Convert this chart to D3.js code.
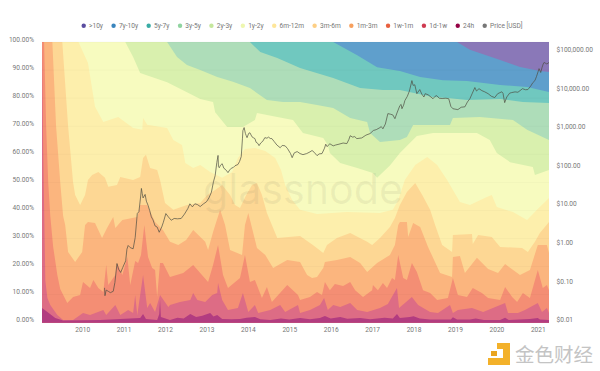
<!DOCTYPE html>
<html>
<head>
<meta charset="utf-8">
<script src="https://cdnjs.cloudflare.com/ajax/libs/d3/7.8.5/d3.min.js"></script>
<style>
    html, body { margin: 0; padding: 0; background: #fff; }
    svg { display: block; width: 600px; height: 371px; }
    text { font-family: Roboto, sans-serif; }
</style>
</head>
<body>
<svg></svg>
<script>
// upper edge of every band, cumulative share of supply: [year, %]
const top10y = [[2009.03,100],[2021.27,100]];
const top7y = [[2019.05,100],[2019.36,97.2],[2020.09,93.6],[2020.57,91.1],[2021.05,89.7],[2021.27,89.3]];
const top5y = [[2016.06,100],[2016.64,95.3],[2017.12,91],[2017.67,89.7],[2018.16,87.5],[2018.71,86.4],[2019.29,86.1],[2020.09,84.7],[2020.74,84],[2021.27,82.2]];
const top3y = [[2014.05,100],[2014.3,96.4],[2014.71,94.3],[2015.26,90.7],[2016.06,87.2],[2016.71,83.6],[2017.26,82.9],[2017.67,82.9],[2018.47,80.4],[2018.88,80],[2019.29,79.3],[2020.09,79.7],[2020.64,78.6],[2021.27,78.3]];
const top2y = [[2012.05,100],[2012.29,94.7],[2012.53,91.8],[2012.85,90],[2013.26,87.5],[2013.64,85.8],[2014.05,83.6],[2014.46,79.3],[2014.85,78.6],[2015.26,78.6],[2015.67,77.6],[2016.06,76.5],[2016.47,72.9],[2016.88,71.5],[2016.95,67.6],[2017.19,64.4],[2017.67,65.1],[2017.84,66.2],[2017.99,70.4],[2018.47,70.4],[2018.88,70.4],[2018.95,72.9],[2019.6,73.3],[2020.4,72.2],[2020.74,68.7],[2021.27,65.1]];
const top1y = [[2011.04,100],[2011.23,94.7],[2011.4,89],[2012.05,85.7],[2012.53,82.1],[2012.85,79.7],[2013.16,78.6],[2013.21,75],[2013.5,69.7],[2013.88,69.7],[2014.17,72.2],[2014.22,74.7],[2014.71,73.3],[2015.09,72.2],[2015.33,67.6],[2015.82,65.8],[2015.93,63.3],[2015.98,60.5],[2016.23,56.9],[2016.64,55.1],[2017.02,53.3],[2017.12,51.6],[2017.43,56],[2017.67,60.5],[2017.91,64],[2018.08,66.5],[2018.47,67.6],[2018.95,67.6],[2019.53,67.6],[2019.84,65.1],[2020.01,60.5],[2020.33,57.2],[2020.88,55.5],[2020.93,52.6],[2021.27,54.4]];
const top6m = [[2009.91,100],[2010.14,92.5],[2010.31,76.9],[2010.51,71.5],[2010.87,73.3],[2011.23,69.4],[2011.45,68.7],[2011.47,72.9],[2011.57,70.5],[2012.05,69.4],[2012.2,65.1],[2012.41,63.3],[2012.49,56.9],[2012.68,55.1],[2012.85,56.2],[2013.09,53.7],[2013.38,51.6],[2013.62,53.7],[2013.76,58.7],[2013.93,61.9],[2014.17,62.2],[2014.42,61.2],[2014.66,58.7],[2014.8,54.4],[2014.9,49.1],[2015.07,43.7],[2015.26,40.2],[2015.67,38.7],[2016.39,39.4],[2017.19,39.1],[2017.5,40.2],[2017.63,43.7],[2017.79,50.8],[2018.04,56.2],[2018.33,59],[2018.57,56.2],[2018.81,50.8],[2019.12,43],[2019.36,41.9],[2019.77,44.8],[2019.89,45.5],[2020.01,41.2],[2020.4,39.4],[2020.74,36.6],[2020.98,40.2],[2021.27,44.4]];
const top3m = [[2009.52,100],[2009.66,70],[2009.78,50],[2009.83,45.5],[2009.95,41.9],[2010.07,45.5],[2010.14,50.8],[2010.24,52.6],[2010.39,53.7],[2010.55,51.6],[2010.63,48.4],[2010.84,49.1],[2010.92,51.9],[2011.23,50.8],[2011.4,51.9],[2011.47,58.7],[2011.54,59.8],[2011.64,55.1],[2011.81,54.4],[2011.88,50.8],[2012,42.6],[2012.2,40.2],[2012.53,41.9],[2012.85,42.6],[2013.02,45.5],[2013.21,47.3],[2013.38,49.1],[2013.57,45.5],[2013.69,41.9],[2013.81,40.9],[2013.96,45.5],[2014.1,49.1],[2014.22,49.8],[2014.34,45.5],[2014.46,39.1],[2014.58,34.8],[2014.71,30.2],[2015.26,30.9],[2015.57,27.7],[2015.82,24.8],[2015.91,27.7],[2016.15,30.2],[2016.47,32],[2016.88,28.8],[2017,27.7],[2017.19,30.2],[2017.43,34.1],[2017.55,37.3],[2017.67,41.9],[2017.84,46.6],[2018.04,49.8],[2018.21,45.5],[2018.4,40.2],[2018.52,34.8],[2018.69,27.7],[2018.93,25.2],[2018.95,31.2],[2019.41,31.6],[2019.43,28],[2019.56,31.2],[2019.89,30.5],[2020.09,27],[2020.62,26.6],[2020.76,25.2],[2020.93,28.8],[2021.05,32],[2021.27,35.9]];
const top1m = [[2009.28,100],[2009.37,70],[2009.47,50],[2009.54,38],[2009.59,34.8],[2009.66,25.2],[2009.83,21.6],[2010,25.2],[2010.07,34.8],[2010.14,35.9],[2010.31,35.5],[2010.48,30.2],[2010.6,33.7],[2010.75,37.7],[2010.8,33.7],[2010.97,36.6],[2011.33,37.7],[2011.4,41.9],[2011.57,41.9],[2011.76,35.9],[2011.95,33],[2012.12,28.8],[2012.32,27.7],[2012.51,29.5],[2012.68,33],[2012.97,28.8],[2013.04,25.9],[2013.16,32.3],[2013.33,40.2],[2013.45,34.8],[2013.57,25.9],[2013.86,24.1],[2013.93,34.8],[2014.01,39.1],[2014.1,33.7],[2014.22,26.6],[2014.42,24.1],[2014.61,19.5],[2014.95,22.3],[2015.26,21.6],[2015.43,17],[2015.55,15.9],[2015.67,16.3],[2015.82,19.5],[2015.86,21.6],[2016.15,22.3],[2016.47,23.4],[2016.71,21.3],[2016.88,18.1],[2017.12,21.3],[2017.43,24.1],[2017.55,27.7],[2017.63,34.8],[2017.67,35.9],[2017.84,35.9],[2017.87,30.5],[2017.99,35.5],[2018.16,34.1],[2018.35,27],[2018.64,17.7],[2018.93,16.3],[2018.95,23.4],[2019.12,23.8],[2019.24,17.7],[2019.53,23.1],[2019.8,19.1],[2020.04,17.7],[2020.21,20.9],[2020.57,17],[2020.81,18.8],[2021,27.7],[2021.22,27.7],[2021.27,24.8]];
const top1w = [[2009.08,100],[2009.13,70],[2009.18,50],[2009.23,38],[2009.3,27],[2009.4,17],[2009.47,12],[2009.64,7],[2009.78,9.2],[2009.95,9.9],[2010.02,14.5],[2010.19,12.4],[2010.27,15.2],[2010.39,12.4],[2010.51,10.9],[2010.58,20.6],[2010.63,13.4],[2010.8,17],[2010.84,21.3],[2010.97,17],[2011.09,23.4],[2011.16,13.4],[2011.28,22],[2011.35,21.3],[2011.42,24.1],[2011.5,34.8],[2011.57,25.9],[2011.59,23.4],[2011.69,19.5],[2011.76,18.8],[2011.81,9.2],[2011.86,18],[2011.88,21.3],[2011.95,21.3],[2012.12,16.3],[2012.44,17.7],[2012.68,20.6],[2013.04,14.5],[2013.16,20.6],[2013.28,27.7],[2013.4,17],[2013.52,12.4],[2013.81,15.9],[2013.93,24.1],[2014.05,14.5],[2014.17,15.2],[2014.34,8.8],[2014.46,12.7],[2014.58,7.4],[2014.95,13.4],[2015.21,9.9],[2015.26,8.1],[2015.5,9.2],[2015.67,10.9],[2015.79,9.9],[2015.86,14.5],[2015.98,11.6],[2016.1,13.8],[2016.3,13.1],[2016.47,14.5],[2016.59,11.6],[2016.78,9.2],[2017,11.6],[2017.02,13.4],[2017.14,11.6],[2017.26,14.1],[2017.36,12.4],[2017.48,15.9],[2017.55,15.2],[2017.63,24.1],[2017.75,15.9],[2017.84,15.2],[2017.96,21.3],[2018.08,18.1],[2018.23,11.6],[2018.4,10.6],[2018.57,8.1],[2018.83,8.8],[2018.95,15.9],[2019.07,9.9],[2019.29,9.2],[2019.43,12.4],[2019.65,10.6],[2019.8,8.8],[2020.09,8.1],[2020.21,12.7],[2020.38,9.2],[2020.5,7.4],[2020.64,10.6],[2020.81,8.8],[2021,18.8],[2021.12,12.4],[2021.22,13.4],[2021.27,11.6]];
const top1d = [[2009.03,100],[2009.06,60],[2009.11,15],[2009.16,8.8],[2009.23,6.3],[2009.4,2.7],[2009.54,1],[2009.78,1],[2010.02,3.5],[2010.19,2.7],[2010.51,4.5],[2010.58,2.7],[2010.8,6.3],[2010.92,2.7],[2011.11,4.5],[2011.23,3.5],[2011.28,9.9],[2011.33,2.7],[2011.47,17],[2011.57,5.2],[2011.64,7],[2011.76,3.8],[2011.88,9.9],[2012.08,5.6],[2012.12,6.3],[2012.36,7.4],[2012.61,8.1],[2012.68,10.6],[2012.78,8.1],[2012.97,7.4],[2013.14,9.9],[2013.26,10.6],[2013.28,14.1],[2013.38,8.1],[2013.52,4.5],[2013.76,5.2],[2013.88,10.6],[2014.01,3.8],[2014.17,6.3],[2014.25,3.5],[2014.54,4.5],[2014.78,6.3],[2014.9,3.8],[2015.21,6.3],[2015.26,3.5],[2015.5,4.5],[2015.74,6.3],[2015.84,8.8],[2015.93,4.5],[2016.06,6.3],[2016.23,5.6],[2016.47,7],[2016.64,4.5],[2016.88,3.8],[2017.19,5.2],[2017.38,6.7],[2017.6,12.4],[2017.65,5.2],[2017.96,9.2],[2018.11,6.3],[2018.4,3.8],[2018.59,3.5],[2018.88,6.3],[2018.95,3.5],[2019.07,4.5],[2019.41,5.2],[2019.68,3.8],[2020.21,7],[2020.28,3.5],[2020.52,3.5],[2020.69,4.5],[2021,7],[2021.1,3.8],[2021.22,5.2],[2021.27,3.5]];
const top24h = [[2009.03,5.2],[2009.16,3.8],[2009.35,1.7],[2009.54,0.8],[2010.43,1],[2010.92,1.3],[2011.4,1.7],[2011.47,3.1],[2011.54,1.3],[2011.81,1],[2011.86,3],[2011.88,8.1],[2011.9,2],[2012.12,1],[2012.3,1.8],[2012.45,1.5],[2012.61,3.1],[2012.75,2],[2012.9,2.5],[2013.09,3.5],[2013.17,2.2],[2013.26,2.7],[2013.38,1.3],[2013.6,1.2],[2013.81,1.3],[2013.97,1.8],[2014.17,2],[2014.3,1.2],[2014.54,1],[2014.8,1.5],[2015,1.1],[2015.26,1.7],[2015.5,1.2],[2015.74,1.7],[2015.86,2.4],[2016,1.5],[2016.23,2],[2016.4,1.4],[2016.71,1.7],[2016.95,1.2],[2017.3,1.8],[2017.5,1.5],[2017.6,3.1],[2017.67,1.7],[2017.91,2],[2018,2.3],[2018.15,1.5],[2018.4,1.1],[2018.9,1.1],[2018.95,1.9],[2019.05,1.1],[2019.36,1.1],[2019.5,1.5],[2019.7,1],[2020.09,1],[2020.21,1.8],[2020.3,1],[2020.81,1.3],[2021,1.7],[2021.05,1.1],[2021.27,1]];

// [year, USD]
const priceUsd = [[2010.54,0.08],[2010.55,0.05],[2010.58,0.07],[2010.63,0.065],[2010.68,0.06],[2010.75,0.065],[2010.79,0.11],[2010.84,0.34],[2010.88,0.24],[2010.93,0.2],[2010.98,0.27],[2011.05,0.4],[2011.08,0.8],[2011.11,1],[2011.16,0.88],[2011.23,0.82],[2011.28,1.6],[2011.33,6.7],[2011.37,7.5],[2011.41,18],[2011.43,30],[2011.45,22],[2011.47,17],[2011.52,21],[2011.55,14],[2011.59,11],[2011.63,8],[2011.67,5.5],[2011.71,4.6],[2011.76,3.2],[2011.81,3],[2011.86,2.2],[2011.92,3],[2011.96,4],[2012.02,6.7],[2012.08,5.5],[2012.15,4.5],[2012.22,5],[2012.3,4.9],[2012.39,5],[2012.47,6.5],[2012.55,9],[2012.6,12],[2012.66,10],[2012.72,12],[2012.78,11.5],[2012.85,10.2],[2012.93,12],[2013,13.5],[2013.06,17],[2013.12,24],[2013.17,45],[2013.21,64],[2013.25,140],[2013.28,215],[2013.29,110],[2013.31,103],[2013.34,120],[2013.38,131],[2013.42,100],[2013.45,95],[2013.49,85],[2013.52,77],[2013.56,90],[2013.6,100],[2013.65,105],[2013.69,116],[2013.76,125],[2013.8,150],[2013.84,200],[2013.87,600],[2013.88,940],[2013.91,1130],[2013.94,800],[2013.96,700],[2013.98,620],[2014.02,800],[2014.05,830],[2014.1,650],[2014.13,620],[2014.17,585],[2014.2,470],[2014.24,440],[2014.27,385],[2014.31,450],[2014.36,500],[2014.41,620],[2014.46,600],[2014.5,640],[2014.54,590],[2014.58,585],[2014.63,500],[2014.7,400],[2014.78,340],[2014.83,390],[2014.9,380],[2014.96,320],[2015.03,240],[2015.07,188],[2015.12,250],[2015.19,270],[2015.26,240],[2015.33,225],[2015.42,240],[2015.5,265],[2015.55,288],[2015.6,260],[2015.67,212],[2015.72,235],[2015.79,240],[2015.85,330],[2015.88,420],[2015.91,363],[2015.98,430],[2016.06,380],[2016.12,400],[2016.2,420],[2016.3,450],[2016.39,435],[2016.44,560],[2016.47,695],[2016.53,640],[2016.58,660],[2016.63,585],[2016.75,610],[2016.85,720],[2016.95,790],[2017.03,950],[2017.1,1000],[2017.19,1130],[2017.22,1200],[2017.26,1050],[2017.32,1400],[2017.38,2600],[2017.45,2500],[2017.5,2400],[2017.55,1920],[2017.6,2700],[2017.67,4200],[2017.7,4500],[2017.72,3480],[2017.76,4300],[2017.79,5640],[2017.85,7300],[2017.9,10000],[2017.96,18600],[2017.99,14000],[2018.03,14500],[2018.08,8530],[2018.15,10900],[2018.2,8300],[2018.25,7000],[2018.28,8530],[2018.35,8000],[2018.42,7000],[2018.47,6310],[2018.52,7300],[2018.56,7590],[2018.62,6500],[2018.69,6400],[2018.78,6500],[2018.85,6310],[2018.9,4000],[2018.95,3480],[2019.07,3300],[2019.15,3800],[2019.24,3900],[2019.3,5200],[2019.36,6310],[2019.42,8800],[2019.48,12300],[2019.52,10000],[2019.58,11500],[2019.65,10230],[2019.72,9500],[2019.8,8530],[2019.88,7300],[2019.96,6760],[2020.03,8500],[2020.13,9550],[2020.16,8700],[2020.2,5010],[2020.25,7000],[2020.32,8800],[2020.37,9120],[2020.45,9500],[2020.52,9300],[2020.57,10230],[2020.63,11500],[2020.7,10800],[2020.76,10900],[2020.83,13500],[2020.88,16500],[2020.93,18600],[2020.97,24000],[2021.03,38000],[2021.07,30200],[2021.1,40000],[2021.13,50000],[2021.15,55000],[2021.19,52000],[2021.22,50000],[2021.27,55000]];

const bandNames = ['>10y', '7y-10y', '5y-7y', '3y-5y', '2y-3y', '1y-2y', '6m-12m', '3m-6m', '1m-3m', '1w-1m', '1d-1w', '24h'];
const bandTops = [top10y, top7y, top5y, top3y, top2y, top1y, top6m, top3m, top1m, top1w, top1d, top24h];
const bandColors = ['#8a78b8', '#5f9fcc', '#70c8bf', '#aeddb9', '#d9f0ae', '#f7fbbf', '#fdefac', '#fdd794', '#fbb57e', '#f48e74', '#dd6c85', '#b23c80'];
const legendColors = ['#5b4da0', '#3a85bd', '#3aaca5', '#90d4a0', '#c5e79d', '#eef7b0', '#fee69a', '#fdcf85', '#f7a05e', '#e8603f', '#cf3a50', '#950245', '#777777'];

const yearTicks = [2010, 2011, 2012, 2013, 2014, 2015, 2016, 2017, 2018, 2019, 2020, 2021];
const pctTicks = [0, 10, 20, 30, 40, 50, 60, 70, 80, 90, 100];
const usdTicks = [0.01, 0.1, 1, 10, 100, 1000, 10000, 100000];

const attr_area = { left: 42, right: 549, top: 42, bottom: 322.7 };
const firstYear = 2009.03;
const lastYear = 2021.27;

const svg = d3.select('svg');

const scX = d3.scaleLinear().domain([firstYear, lastYear]).range([attr_area.left, attr_area.right]);
const scY = d3.scaleLinear().domain([0, 100]).range([attr_area.bottom, attr_area.top]);
const scPrice = d3.scaleLog().domain([0.01, 186000]).range([attr_area.bottom, attr_area.top]);

function drawBands() {
    const area = d3.area()
        .x(d => scX(d[0]))
        .y0(attr_area.bottom)
        .y1(d => scY(d[1]));

    // each band is painted from its upper edge to the floor, the next one covers the rest.
    // an edge that starts later than the chart was at 100% until then
    const edges = bandTops.map(d => d[0][0] > firstYear ? [[firstYear, 100]].concat(d) : d);

    svg.selectAll('.band')
       .data(edges)
       .enter()
       .append('path')
       .attr('class', 'band')
       .attr('d', d => area(d))
       .style('fill', (d, i) => bandColors[i]);
}

function drawGrid() {
    svg.selectAll('.grid')
       .data(pctTicks)
       .enter()
       .append('line')
       .attr('class', 'grid')
       .attr('x1', attr_area.left)
       .attr('x2', attr_area.right)
       .attr('y1', d => scY(d))
       .attr('y2', d => scY(d))
       .style('stroke', 'rgba(0,0,0,0.025)');
}

function drawWatermark() {
    svg.append('text')
       .attr('x', 203)
       .attr('y', 204)
       .attr('textLength', 200)
       .attr('lengthAdjust', 'spacingAndGlyphs')
       .style('font-family', 'Inter, sans-serif')
       .style('font-size', '42px')
       .style('font-weight', 400)
       .style('fill', 'rgba(110,110,90,0.09)')
       .text('glassnode');
}

function drawPrice() {
    const line = d3.line()
        .x(d => scX(d[0]))
        .y(d => scPrice(d[1]));

    svg.append('path')
       .attr('d', line(priceUsd))
       .style('fill', 'none')
       .style('stroke', '#4d4d42')
       .style('stroke-width', '0.7px');
}

function styleAxis(g) {
    g.select('.domain').remove();
    g.selectAll('line').remove();
    g.selectAll('text')
     .style('font-family', 'Roboto, sans-serif')
     .style('font-size', '6.6px')
     .style('fill', '#777');
}

function drawAxes() {
    svg.append('g')
       .attr('transform', `translate(0, ${attr_area.bottom + 5})`)
       .call(d3.axisBottom(scX).tickValues(yearTicks).tickFormat(d3.format('d')).tickSize(0).tickPadding(0))
       .call(styleAxis);

    svg.append('g')
       .attr('transform', `translate(34, -3)`)
       .call(d3.axisLeft(scY).tickValues(pctTicks).tickFormat(d => d.toFixed(2) + '%').tickSize(0).tickPadding(0))
       .call(styleAxis);

    svg.append('g')
       .attr('transform', `translate(556.5, -3)`)
       .call(d3.axisRight(scPrice).tickValues(usdTicks).tickFormat(d3.format('$,.2f')).tickSize(0).tickPadding(0))
       .call(styleAxis);
}

function drawLegend() {
    const names = bandNames.concat(['Price [USD]']);
    let x = 83.7;

    names.forEach((name, i) => {
        svg.append('circle')
           .attr('cx', x)
           .attr('cy', 25.7)
           .attr('r', 2.2)
           .style('fill', legendColors[i]);

        const label = svg.append('text')
           .attr('x', x + 5.3)
           .attr('y', 28)
           .style('font-size', '6.6px')
           .style('fill', '#777')
           .text(name);

        x += 5.3 + label.node().getComputedTextLength() + 10.6;
    });
}

function drawLogo() {
    const logo = svg.append('g');
    logo.append('path')
        .attr('d', 'M497 343H510V365H488V358H503V349H497Z')
        .style('fill', '#f3b12a');
    logo.append('rect')
        .attr('x', 491).attr('y', 351).attr('width', 6).attr('height', 5)
        .style('fill', '#e9a41f');
    logo.append('text')
        .attr('x', 515)
        .attr('y', 362)
        .style('font-family', '"Noto Sans CJK SC", sans-serif')
        .style('font-size', '19.5px')
        .style('fill', '#c4c4c4')
        .text('金色财经');
}

drawBands();
drawGrid();
drawWatermark();
drawPrice();
drawAxes();
drawLegend();
drawLogo();
</script>
</body>
</html>
